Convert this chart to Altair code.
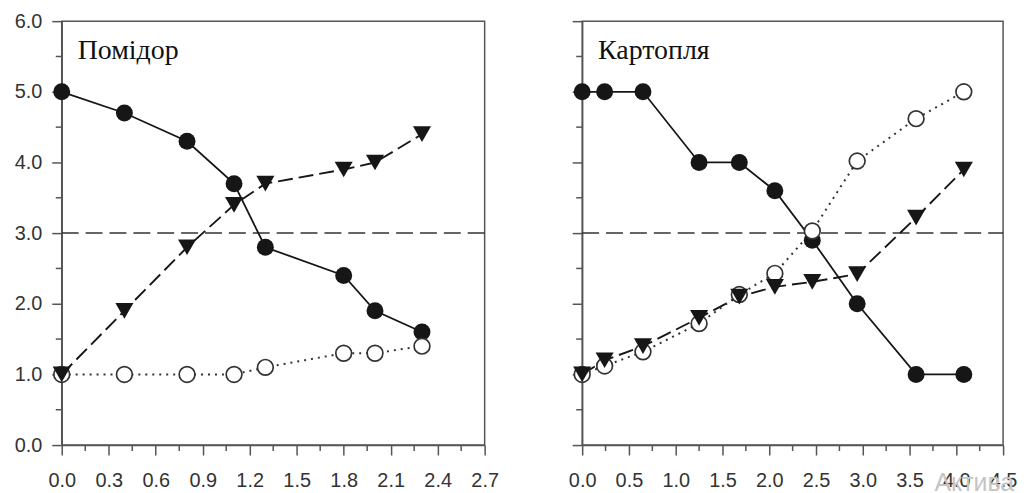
import altair as alt
import pandas as pd

# ---- Left panel: Помідор ----
tom_x = [0.0, 0.4, 0.8, 1.1, 1.3, 1.8, 2.0, 2.3]
tom_filled = [5.0, 4.7, 4.3, 3.7, 2.8, 2.4, 1.9, 1.6]
tom_tri = [1.0, 1.9, 2.8, 3.4, 3.7, 3.9, 4.0, 4.4]
tom_open = [1.0, 1.0, 1.0, 1.0, 1.1, 1.3, 1.3, 1.4]
tom_xticks = [0.0, 0.3, 0.6, 0.9, 1.2, 1.5, 1.8, 2.1, 2.4, 2.7]
tom_xminor = [0.15, 0.45, 0.75, 1.05, 1.35, 1.65, 1.95, 2.25, 2.55]

# ---- Right panel: Картопля ----
pot_x = [0.0, 0.24, 0.65, 1.25, 1.68, 2.06, 2.46, 2.94, 3.57, 4.08]
pot_filled = [5.0, 5.0, 5.0, 4.0, 4.0, 3.6, 2.9, 2.0, 1.0, 1.0]
pot_tri = [1.0, 1.2, 1.4, 1.8, 2.1, 2.24, 2.31, 2.42, 3.22, 3.9]
pot_open = [1.0, 1.12, 1.32, 1.72, 2.13, 2.43, 3.03, 4.02, 4.62, 5.0]
pot_xticks = [0.0, 0.5, 1.0, 1.5, 2.0, 2.5, 3.0, 3.5, 4.0, 4.5]
pot_xminor = [0.25, 0.75, 1.25, 1.75, 2.25, 2.75, 3.25, 3.75, 4.25]

y_ticks = [0.0, 1.0, 2.0, 3.0, 4.0, 5.0, 6.0]
y_minor = [0.5, 1.5, 2.5, 3.5, 4.5, 5.5]
ref_level = [3.0]

H = 426
INK = "#161616"
AX = "#555555"


def panel(xs, filled, tri, opn, xticks, xminor, xmax, title, W, ylabels, watermark=None):
    df = pd.DataFrame({
        "x": xs * 3,
        "y": filled + tri + opn,
        "s": ["filled"] * len(xs) + ["tri"] * len(xs) + ["open"] * len(xs),
    })
    xenc = alt.X("x:Q", scale=alt.Scale(domain=[0, xmax], nice=False, zero=False),
                 axis=alt.Axis(values=xticks, format=".1f", title=None, labelPadding=16,
                               labelFlush=False))
    yenc = alt.Y("y:Q", scale=alt.Scale(domain=[0, 6], nice=False),
                 axis=alt.Axis(values=y_ticks, format=".1f", title=None,
                               labels=ylabels, labelPadding=10, labelFlush=False))
    base = alt.Chart(df).encode(x=xenc, y=yenc)

    ref = alt.Chart(pd.DataFrame({"y": ref_level})).mark_rule(
        strokeDash=[17, 7], color="#333333", strokeWidth=1.5
    ).encode(y=yenc, x=alt.value(0), x2=alt.value(W))

    l_filled = base.transform_filter(alt.datum.s == "filled").mark_line(color=INK, strokeWidth=1.8)
    l_tri = base.transform_filter(alt.datum.s == "tri").mark_line(color=INK, strokeWidth=1.9, strokeDash=[15, 6])
    l_open = base.transform_filter(alt.datum.s == "open").mark_line(color="#333333", strokeWidth=2, strokeDash=[2, 5])

    p_filled = base.transform_filter(alt.datum.s == "filled").mark_point(
        shape="circle", filled=True, color=INK, size=290, opacity=1)
    p_open = base.transform_filter(alt.datum.s == "open").mark_point(
        shape="circle", filled=True, fill="white", stroke="#333333", strokeWidth=1.7, size=250, opacity=1)
    p_tri = base.transform_filter(alt.datum.s == "tri").mark_point(
        shape="triangle-down", filled=True, color=INK, size=330, opacity=1)

    mx = alt.Chart(pd.DataFrame({"x": xminor})).mark_rule(color=AX, strokeWidth=1.5).encode(
        x=alt.X("x:Q", scale=alt.Scale(domain=[0, xmax], nice=False, zero=False)),
        y=alt.value(H), y2=alt.value(H + 6))
    my = alt.Chart(pd.DataFrame({"y": y_minor})).mark_rule(color=AX, strokeWidth=1.5).encode(
        y=alt.Y("y:Q", scale=alt.Scale(domain=[0, 6], nice=False)),
        x=alt.value(0), x2=alt.value(-6))

    ttl = alt.Chart(pd.DataFrame({"t": [title]})).mark_text(
        align="left", baseline="alphabetic", font="Liberation Serif", fontSize=28, color="#111111"
    ).encode(text="t:N", x=alt.value(16), y=alt.value(38))

    layers = [ref, l_filled, l_tri, l_open, p_filled, p_open, p_tri, mx, my, ttl]
    if watermark:
        wm = alt.Chart(pd.DataFrame({"t": [watermark]})).mark_text(
            align="left", baseline="alphabetic", font="Liberation Sans", fontSize=25, color="#c4c4c4"
        ).encode(text="t:N", x=alt.value(354), y=alt.value(472))
        layers.append(wm)
    return alt.layer(*layers).properties(width=W, height=H)


left = panel(tom_x, tom_filled, tom_tri, tom_open, tom_xticks, tom_xminor, 2.7, "Помідор", 425, True)
right = panel(pot_x, pot_filled, pot_tri, pot_open, pot_xticks, pot_xminor, 4.5, "Картопля", 423, False, "Актива")

chart = alt.hconcat(left, right, spacing=98, bounds="flush").properties(
    padding={"left": 5, "top": 1, "right": 5, "bottom": 5}
).configure_view(
    stroke=AX, strokeWidth=1.5
).configure_axis(
    domainColor=AX, tickColor=AX, domainWidth=1.5, tickWidth=1.5, tickSize=10,
    labelColor="#333333", labelFont="Liberation Sans", labelFontSize=20, grid=False
)

chart.save("out.html", embed_options={"renderer": "svg", "actions": False})
